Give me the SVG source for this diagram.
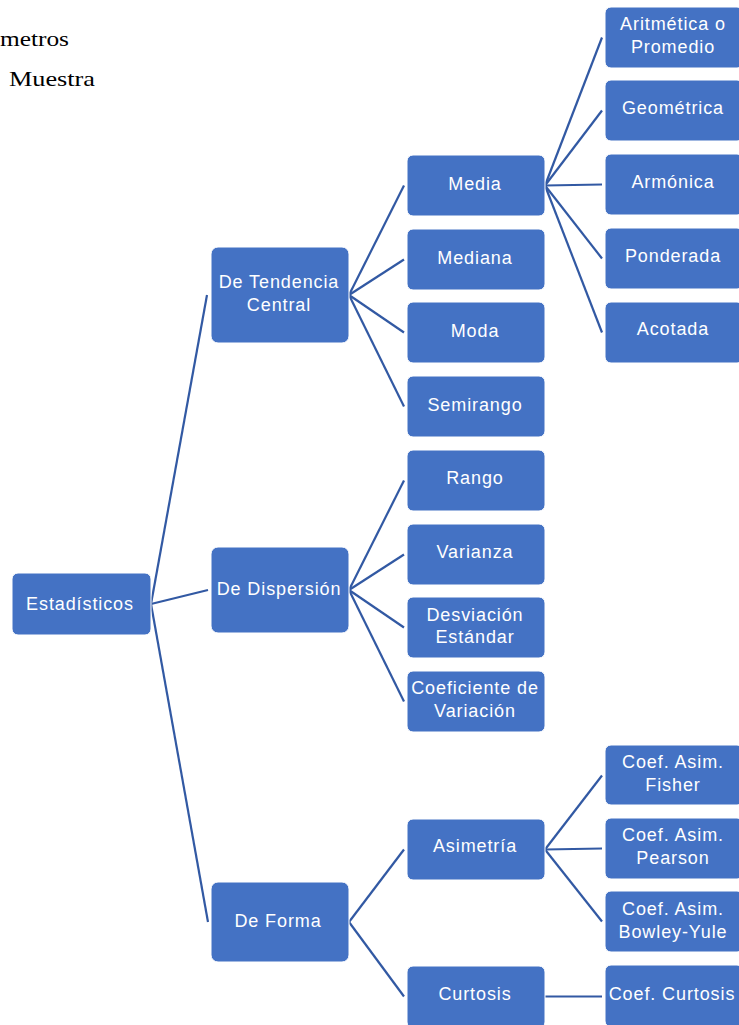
<svg xmlns="http://www.w3.org/2000/svg" width="739" height="1025" viewBox="0 0 739 1025">
<style>
.b{fill:#4472C4;stroke:#ffffff;stroke-width:1}
.t{font-family:"Liberation Sans",Arial,sans-serif;font-size:18px;fill:#ffffff;text-anchor:middle;letter-spacing:0.9px}
.s{font-family:"Liberation Serif","Times New Roman",serif;font-size:22px;fill:#000000}
.c line{stroke:#3259A3;stroke-width:2.2;fill:none}
</style>
<rect width="739" height="1025" fill="#ffffff"/>
<text class="s" x="0" y="46" textLength="69" lengthAdjust="spacingAndGlyphs">metros</text>
<text class="s" x="9" y="86" textLength="86" lengthAdjust="spacingAndGlyphs">Muestra</text>
<g id="connectors" class="c">
<line x1="151" y1="604" x2="207" y2="295"/>
<line x1="151" y1="604" x2="208" y2="590"/>
<line x1="151" y1="604" x2="208" y2="922"/>
<line x1="349" y1="295" x2="404" y2="185.5"/>
<line x1="349" y1="295" x2="404" y2="259.5"/>
<line x1="349" y1="295" x2="404" y2="332.5"/>
<line x1="349" y1="295" x2="404" y2="406.5"/>
<line x1="349" y1="590" x2="404" y2="480.5"/>
<line x1="349" y1="590" x2="404" y2="554.5"/>
<line x1="349" y1="590" x2="404" y2="627.5"/>
<line x1="349" y1="590" x2="404" y2="701.5"/>
<line x1="349" y1="922" x2="404" y2="849.5"/>
<line x1="349" y1="922" x2="404" y2="996.5"/>
<line x1="545" y1="185.5" x2="602" y2="37.5"/>
<line x1="545" y1="185.5" x2="602" y2="110.5"/>
<line x1="545" y1="185.5" x2="602" y2="184.5"/>
<line x1="545" y1="185.5" x2="602" y2="258.5"/>
<line x1="545" y1="185.5" x2="602" y2="332.5"/>
<line x1="545" y1="849.5" x2="602" y2="775.5"/>
<line x1="545" y1="849.5" x2="602" y2="848.5"/>
<line x1="545" y1="849.5" x2="602" y2="921.5"/>
<line x1="545" y1="996.5" x2="602" y2="996.5"/>
</g>
<g id="estadisticos"><rect class="b" x="12" y="573" width="139" height="62" rx="6"/><text class="t" x="80" y="610">Estadísticos</text></g>
<g id="tendencia"><rect class="b" x="211" y="247" width="138" height="96" rx="7"/><text class="t" x="279" y="288">De Tendencia</text><text class="t" x="279" y="311">Central</text></g>
<g id="dispersion"><rect class="b" x="211" y="547" width="138" height="86" rx="7"/><text class="t" x="279" y="595">De Dispersión</text></g>
<g id="forma"><rect class="b" x="211" y="882" width="138" height="80" rx="7"/><text class="t" x="278" y="927">De Forma</text></g>
<g id="media"><rect class="b" x="407" y="155" width="138" height="61" rx="6"/><text class="t" x="475" y="190">Media</text></g>
<g id="mediana"><rect class="b" x="407" y="229" width="138" height="61" rx="6"/><text class="t" x="475" y="264">Mediana</text></g>
<g id="moda"><rect class="b" x="407" y="302" width="138" height="61" rx="6"/><text class="t" x="475" y="337">Moda</text></g>
<g id="semirango"><rect class="b" x="407" y="376" width="138" height="61" rx="6"/><text class="t" x="475" y="411">Semirango</text></g>
<g id="rango"><rect class="b" x="407" y="450" width="138" height="61" rx="6"/><text class="t" x="475" y="484">Rango</text></g>
<g id="varianza"><rect class="b" x="407" y="524" width="138" height="61" rx="6"/><text class="t" x="475" y="558">Varianza</text></g>
<g id="desviacion"><rect class="b" x="407" y="597" width="138" height="61" rx="6"/><text class="t" x="475" y="621">Desviación</text><text class="t" x="475" y="643">Estándar</text></g>
<g id="coeficiente"><rect class="b" x="407" y="671" width="138" height="61" rx="6"/><text class="t" x="475" y="694">Coeficiente de</text><text class="t" x="475" y="717">Variación</text></g>
<g id="asimetria"><rect class="b" x="407" y="819" width="138" height="61" rx="6"/><text class="t" x="475" y="852">Asimetría</text></g>
<g id="curtosis"><rect class="b" x="407" y="966" width="138" height="62" rx="6"/><text class="t" x="475" y="1000">Curtosis</text></g>
<g id="aritmetica"><rect class="b" x="605" y="7" width="138" height="61" rx="6"/><text class="t" x="673" y="30">Aritmética o</text><text class="t" x="673" y="53">Promedio</text></g>
<g id="geometrica"><rect class="b" x="605" y="80" width="138" height="61" rx="6"/><text class="t" x="673" y="114">Geométrica</text></g>
<g id="armonica"><rect class="b" x="605" y="154" width="138" height="61" rx="6"/><text class="t" x="673" y="188">Armónica</text></g>
<g id="ponderada"><rect class="b" x="605" y="228" width="138" height="61" rx="6"/><text class="t" x="673" y="262">Ponderada</text></g>
<g id="acotada"><rect class="b" x="605" y="302" width="138" height="61" rx="6"/><text class="t" x="673" y="335">Acotada</text></g>
<g id="fisher"><rect class="b" x="605" y="745" width="138" height="60" rx="6"/><text class="t" x="673" y="768">Coef. Asim.</text><text class="t" x="673" y="791">Fisher</text></g>
<g id="pearson"><rect class="b" x="605" y="818" width="138" height="61" rx="6"/><text class="t" x="673" y="841">Coef. Asim.</text><text class="t" x="673" y="864">Pearson</text></g>
<g id="bowley"><rect class="b" x="605" y="891" width="138" height="61" rx="6"/><text class="t" x="673" y="915">Coef. Asim.</text><text class="t" x="673" y="938">Bowley-Yule</text></g>
<g id="coefcurtosis"><rect class="b" x="605" y="965" width="138" height="62" rx="6"/><text class="t" x="672" y="1000">Coef. Curtosis</text></g>
</svg>
